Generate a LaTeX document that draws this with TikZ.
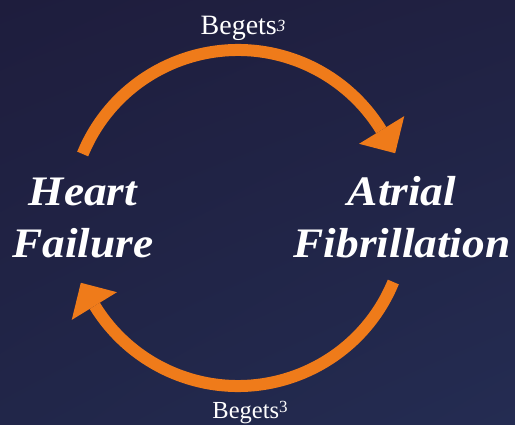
\documentclass[tikz,border=0pt]{standalone}
\usepackage{fontspec}
\setmainfont{Liberation Serif}
\newfontfamily\termfont[FakeStretch=1.08]{Liberation Serif}
\usetikzlibrary{calc,shadings}
\definecolor{bgTL}{RGB}{30,29,61}
\definecolor{bgTR}{RGB}{32,33,66}
\definecolor{bgBL}{RGB}{33,38,73}
\definecolor{bgBR}{RGB}{36,44,82}
\definecolor{arroworange}{RGB}{239,123,26}
\tikzset{
  cyclearc/.style={draw=arroworange, line width=12pt, line cap=butt},
  cyclehead/.style={fill=arroworange, draw=none},
  bigterm/.style={text=white, font=\termfont\fontsize{42}{53}\selectfont\bfseries\itshape, align=center, anchor=base, inner sep=0pt},
  begets/.style={text=white, anchor=base, inner sep=0pt}
}
\begin{document}
\begin{tikzpicture}[x=1pt,y=1pt]
  \shade[upper left=bgTL, upper right=bgTR, lower left=bgBL, lower right=bgBR] (0,0) rectangle (515,424);
  \useasboundingbox (0,0) rectangle (515,424);
  \coordinate (c) at (238,206);
  % top arc: Heart Failure -> Atrial Fibrillation
  \draw[cyclearc] ($(c)+(157.6:168)$) arc[start angle=157.6, end angle=31.5, radius=168];
  \fill[cyclehead] ($(c)+(31.5:142)$) -- ($(c)+(31.5:195)$) -- ($(c)+(22.4:170)$) -- cycle;
  % bottom arc: Atrial Fibrillation -> Heart Failure
  \draw[cyclearc] ($(c)+(-22.4:168)$) arc[start angle=-22.4, end angle=-148.5, radius=168];
  \fill[cyclehead] ($(c)+(-148.5:142)$) -- ($(c)+(-148.5:195)$) -- ($(c)+(-157.6:170)$) -- cycle;
  \node[bigterm] (hf) at (83,166) {Heart\\Failure};
  \node[bigterm] (af) at (402,166) {Atrial\\Fibrillation};
  \node[begets, font=\fontsize{28}{28}\selectfont] (b1) at (243,389) {Begets\raisebox{3pt}{\fontsize{17}{17}\selectfont\itshape 3}};
  \node[begets, font=\fontsize{24.5}{24.5}\selectfont] (b2) at (250,6) {Begets\raisebox{6pt}{\fontsize{17}{17}\selectfont 3}};
\end{tikzpicture}
\end{document}
